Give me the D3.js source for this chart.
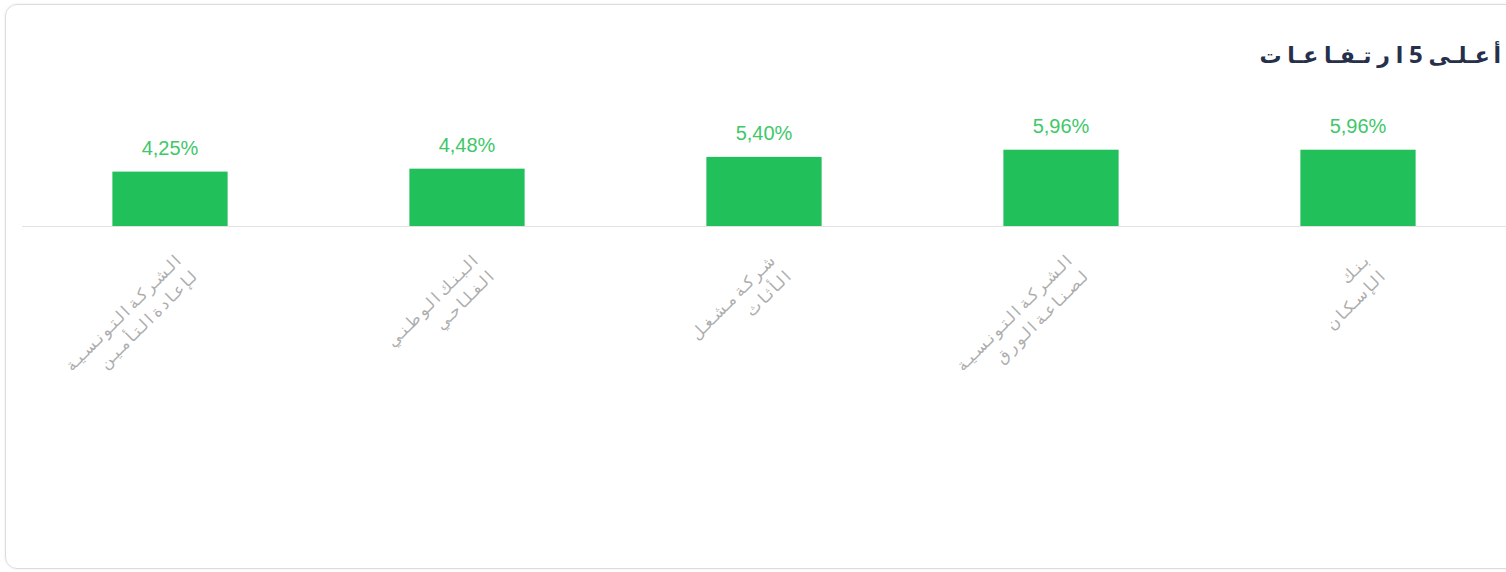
<!DOCTYPE html>
<html lang="ar">
<head>
<meta charset="utf-8">
<script src="https://cdn.jsdelivr.net/npm/d3@7"></script>
<style>
  html, body { margin: 0; padding: 0; background: #fff; overflow: hidden; }
  body { width: 1506px; height: 572px; position: relative; font-family: "Noto Sans", "DejaVu Sans", sans-serif; }
  .card {
    position: absolute; left: 5px; top: 4px; width: 1530px; height: 565px;
    border: 1.5px solid #dcdcdc; border-radius: 12px; box-sizing: border-box;
    box-shadow: 0 0 3px rgba(0,0,0,0.08);
  }
  svg { position: absolute; left: 0; top: 0; }
</style>
</head>
<body>
<div class="card"></div>
<div id="chart"></div>
<script>
// chart data (right to left, first item sits on the right)
var titleWords = ["أعلى", "5", "ارتفاعات"];
var names = [
  ["بنك", "الإسكان"],
  ["الشركة التونسية", "لصناعة الورق"],
  ["شركة مشغل", "الأثاث"],
  ["البنك الوطني", "الفلاحي"],
  ["الشركة التونسية", "لإعادة التأمين"]
];
var values = [5.96, 5.96, 5.40, 4.48, 4.25];

var W = 1506, H = 572;
var baseY = 226;

// browsers drop letter-spacing on arabic, so spread the letters by hand:
// kashida between joined letters, thin space after non-joining ones
var rightOnly = "اأإآدذرزوؤةء";
function spread(s) {
    var out = "";
    for (var k = 0; k < s.length; k++) {
        var a = s[k], b = s[k + 1];
        out += a;
        if (b === undefined || a === " " || b === " ") continue;
        var arA = /[\u0621-\u064A]/.test(a), arB = /[\u0621-\u064A]/.test(b);
        if (arA && arB && rightOnly.indexOf(a) < 0) out += "\u0640";
        else out += "\u2009";
    }
    return out;
}

var svg = d3.select('#chart').append('svg')
    .attr('width', W)
    .attr('height', H);

// bands laid out right to left
var x = d3.scaleBand()
    .domain(d3.range(values.length))
    .range([1506.5, 21.5])
    .paddingInner(0.612)
    .paddingOuter(0.306);

var y = d3.scaleLinear()
    .domain([0, 6])
    .range([baseY, baseY - 76.8]);

// title (rtl, starts at the right edge)
var t = svg.append('text')
    .attr('x', 1501)
    .attr('y', 63)
    .attr('direction', 'rtl')
    .attr('text-anchor', 'start')
    .style('unicode-bidi', 'embed')
    .style('font-size', '22px')
    .style('font-weight', '600')
    .style('fill', '#26304b');
t.append('tspan').text(spread(titleWords[0]) + " ");
t.append('tspan').style('font-weight', '700').style('font-size', '24px').text(titleWords[1]);
t.append('tspan').text("  " + spread(titleWords[2]).replace(/\u2009/g, "\u2009\u200a"));

// baseline
svg.append('line')
    .attr('x1', 22).attr('x2', W)
    .attr('y1', baseY + 0.5).attr('y2', baseY + 0.5)
    .style('stroke', '#e3e3e3')
    .style('stroke-width', 1);

// bars
svg.selectAll('rect.bar').data(values).enter().append('rect')
    .attr('class', 'bar')
    .attr('x', function(d, i){ return x(i); })
    .attr('width', x.bandwidth())
    .attr('y', function(d){ return y(d); })
    .attr('height', function(d){ return y(0) - y(d); })
    .style('fill', '#22c05a');

// value labels
svg.selectAll('text.val').data(values).enter().append('text')
    .attr('class', 'val')
    .attr('x', function(d, i){ return x(i) + x.bandwidth() / 2; })
    .attr('y', function(d){ return y(d) - 17; })
    .attr('text-anchor', 'middle')
    .style('font-family', '"Liberation Sans", Arial, sans-serif')
    .style('font-size', '20px')
    .style('fill', '#41c76b')
    .text(function(d){ return d.toFixed(2).replace('.', ',') + '%'; });

// rotated category labels
var labs = svg.selectAll('text.cat').data(names).enter().append('text')
    .attr('class', 'cat')
    .attr('direction', 'ltr')
    .attr('text-anchor', 'end')
    .attr('transform', function(d, i){
        var cx = x(i) + x.bandwidth() / 2 + 12;
        return 'translate(' + cx + ',' + (baseY + 36) + ') rotate(-45)';
    })
    .style('font-size', '16px')
    .style('fill', '#adadad');

labs.selectAll('tspan').data(function(d){ return d; }).enter().append('tspan')
    .attr('x', 0)
    .attr('dy', function(d, j){ return j === 0 ? 0 : '1.4em'; })
    .text(function(d){ return d.split(" ").map(spread).join("  "); });
</script>
</body>
</html>
